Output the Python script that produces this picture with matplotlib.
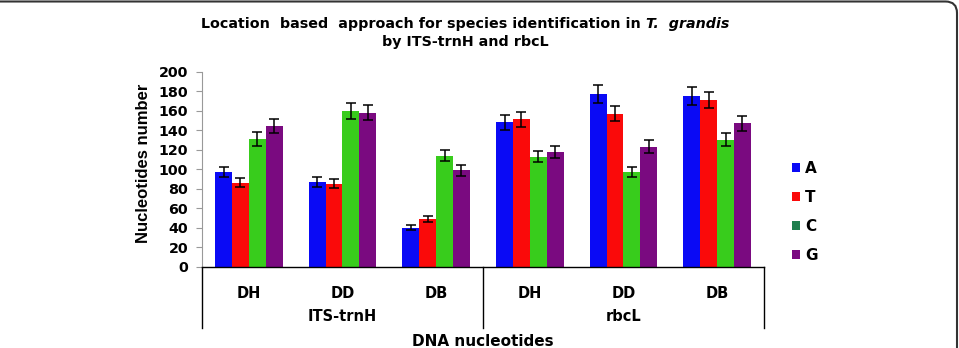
import matplotlib
matplotlib.use("Agg")
import matplotlib.pyplot as plt
import numpy as np
from matplotlib.patches import Patch, FancyBboxPatch
from matplotlib.transforms import blended_transform_factory

plt.rcParams['font.family'] = ['DejaVu Sans']
plt.rcParams['font.weight'] = 'bold'

sites = ["DH", "DD", "DB", "DH", "DD", "DB"]
markers = ["ITS-trnH", "rbcL"]
nucleotides = ["A", "T", "C", "G"]

A_vals = [97, 87, 40, 148, 177, 175]
T_vals = [86, 85, 49, 151, 157, 171]
C_vals = [131, 160, 114, 113, 97, 130]
G_vals = [144, 158, 99, 118, 123, 147]

A_err = [5.5, 4.8, 2.4, 7.7, 8.9, 9.0]
T_err = [4.6, 4.6, 2.9, 7.7, 8.0, 8.5]
C_err = [6.8, 8.0, 5.5, 5.6, 5.1, 6.7]
G_err = [7.3, 8.0, 5.5, 6.2, 6.5, 7.4]

yticks = [0, 20, 40, 60, 80, 100, 120, 140, 160, 180, 200]

bar_colors = ["#0a0af5", "#fa0a0a", "#38cc1c", "#7a0a80"]
legend_colors = ["#0a0af5", "#fa0a0a", "#1e7f4e", "#7a0a80"]

fig = plt.figure(figsize=(9.59, 3.48), dpi=100)
ax = fig.add_axes([202/959, 1-266.7/348, (764-202)/959, 195/348])

x = np.arange(len(sites))
w = 0.18
series = [A_vals, T_vals, C_vals, G_vals]
errs = [A_err, T_err, C_err, G_err]
for i, (vals, er) in enumerate(zip(series, errs)):
    ax.bar(x + (i - 1.5) * w, vals, w, color=bar_colors[i],
           yerr=er, capsize=3.5, error_kw=dict(ecolor="black", elinewidth=1.1, capthick=1.1))

ax.set_xlim(-0.5, len(sites) - 0.5)
ax.set_ylim(0, 200)
ax.set_yticks(yticks)
ax.set_yticklabels([str(v) for v in yticks], fontsize=10.3, fontweight='bold')
ax.set_xticks([])
for s in ["top", "right"]:
    ax.spines[s].set_visible(False)
ax.spines["left"].set_color("#999999")
ax.spines["bottom"].set_color("black")
ax.spines["bottom"].set_linewidth(1.0)
ax.tick_params(axis='y', length=4, color="#999999", pad=6)

trans = blended_transform_factory(ax.transData, ax.transAxes)
for xi, s in zip(x, sites):
    ax.text(xi, -0.135, s, transform=trans, ha='center', va='center', fontsize=10.5, fontweight='bold')
for gi, m in enumerate(markers):
    ax.text(gi * 3 + 1, -0.255, m, transform=trans, ha='center', va='center', fontsize=10.5, fontweight='bold')
for xb in [-0.5, 2.5, 5.5]:
    ax.plot([xb, xb], [0, -0.314], transform=trans, color="black", lw=1.0, clip_on=False)
ax.text(2.5, -0.385, "DNA nucleotides", transform=trans, ha='center', va='center', fontsize=11, fontweight='bold')

fig.text(144/959, 1-163/348, "Nucleotides number", rotation=90, ha='center', va='center',
         fontsize=12, fontweight='bold', family=['Liberation Sans', 'DejaVu Sans'])

# Title with italic species name
fig.canvas.draw()
r = fig.canvas.get_renderer()
tsize = 10.3
t1 = fig.text(0, 1-24/348, "Location  based  approach for species identification in ", ha='left', va='center',
              fontsize=tsize, fontweight='bold')
t2 = fig.text(0, 1-24/348, "T.  grandis", ha='left', va='center', fontsize=tsize, fontweight='bold', style='italic')
w1 = t1.get_window_extent(r).width
w2 = t2.get_window_extent(r).width
xc = 465
x0 = xc - (w1 + w2) / 2
t1.set_x(x0 / 959)
t2.set_x((x0 + w1) / 959)
fig.text(465/959, 1-42/348, "by ITS-trnH and rbcL", ha='center', va='center', fontsize=tsize, fontweight='bold')

handles = [Patch(facecolor=c, edgecolor='none') for c in legend_colors]
leg = fig.legend(handles, nucleotides, loc='upper left', bbox_to_anchor=(792/959, 1-161/348),
                 frameon=False, prop=dict(weight='bold', size=11),
                 handlelength=0.55, handleheight=0.55, handletextpad=0.3, labelspacing=0.92,
                 borderaxespad=0, borderpad=0)

frame = FancyBboxPatch((-0.05, -0.1), 0.05 + 957/959, 0.1 + 1 - 1.5/348,
                       boxstyle="round,pad=0,rounding_size=0.012", mutation_aspect=959/348,
                       transform=fig.transFigure, facecolor='none', edgecolor='#333333', lw=1.5,
                       clip_on=False)
fig.patches.append(frame)

fig.savefig("out.png", dpi=100)
